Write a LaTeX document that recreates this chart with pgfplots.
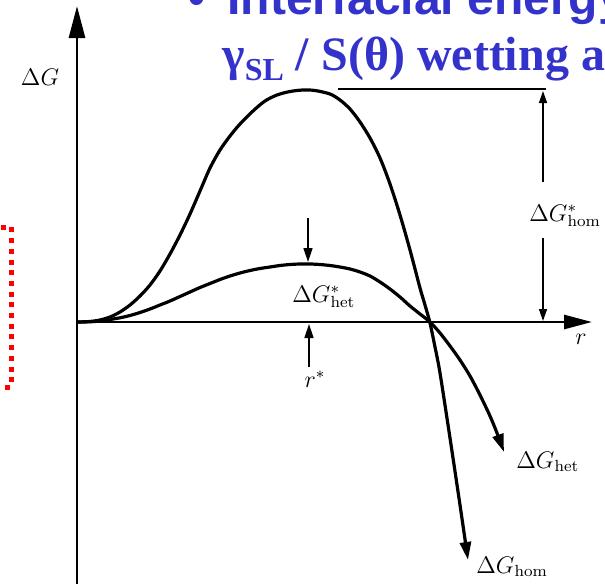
\documentclass[border=0pt]{standalone}
\usepackage{pgfplots}
\pgfplotsset{compat=1.18}
\usepackage{fontspec}
\usetikzlibrary{arrows.meta}
\newfontfamily\slidesans{Liberation Sans}
\newfontfamily\slideserif{Liberation Serif}
\definecolor{slideblue}{RGB}{51,51,204}
\tikzset{lbl/.style={font=\fontsize{11.5}{13}\selectfont}}

% free-energy curves, in picture units (x to the right, y downwards)
\pgfplotstableread{
x   y
77  322
90  321.5
100 320
110 317
120 312
130 305
140 296
150 285
160 271
170 254
180 235
190 214
200 191
210 168
220 150
230 136
240 124
253 111
265 101
277 95
290 91.5
303 90
315 90.5
330 94
340 100
350 109
360 122
370 138
380 158
390 184
400 215
410 250
420 288
425 305
430 323
435 347
440 373
450 438
460 505
468 560
}\homcurve

\pgfplotstableread{
x   y
77  322
90  321.8
100 321
110 319.5
120 317.8
130 315.5
140 312.5
150 309
160 305
170 301
180 296.5
190 292
200 287.5
210 283.5
220 279.5
230 276
240 273
250 270.5
260 268.5
270 267
280 265.5
290 264.5
300 264
310 264
320 264.5
330 265.5
340 267
350 269
360 272
370 276
380 282
390 289
400 297
410 306
420 314
430 322
440 333
450 346
460 360
470 376
480 395
490 416
497 433
504 452
}\hetcurve

\begin{document}
\begin{tikzpicture}
\useasboundingbox (0,0) rectangle (302.5pt,292pt);
\clip (0,0) rectangle (302.5pt,292pt);
\begin{axis}[
  at={(0,0)}, anchor=south west,
  scale only axis, width=302.5pt, height=292pt,
  xmin=0, xmax=605, ymin=0, ymax=584, y dir=reverse,
  hide axis, clip=false,
]
% axes
\draw[line width=1.4pt, -{Triangle[length=16pt,width=8pt]}]
  (axis cs:77,584) -- (axis cs:77,6);
\draw[line width=1.4pt, -{Triangle[length=14pt,width=7pt]}]
  (axis cs:77,322) -- (axis cs:592,322);

% curves
\addplot[line width=1.6pt, smooth, -{Triangle[length=9pt,width=5.5pt]}]
  table[x=x,y=y] {\homcurve};
\addplot[line width=1.6pt, smooth, -{Triangle[length=9pt,width=5.5pt]}]
  table[x=x,y=y] {\hetcurve};

% barrier heights
\draw[line width=0.7pt] (axis cs:338,89) -- (axis cs:546,89);
\draw[line width=0.7pt, -{Triangle[length=6pt,width=4pt]}]
  (axis cs:543,182) -- (axis cs:543,91);
\draw[line width=0.7pt, -{Triangle[length=6pt,width=4pt]}]
  (axis cs:543,238) -- (axis cs:543,321);
\draw[line width=0.8pt, -{Triangle[length=7pt,width=4.5pt]}]
  (axis cs:308,218) -- (axis cs:308,262);
\draw[line width=0.8pt, -{Triangle[length=7pt,width=4.5pt]}]
  (axis cs:309,367) -- (axis cs:309,324);

% labels
\node[lbl] at (axis cs:40,77) {$\Delta G$};
\node[lbl] at (axis cs:581,339) {$r$};
\node[lbl] at (axis cs:315,379) {$r^{*}$};
\node[lbl, anchor=base west, inner sep=0pt] at (axis cs:529,221) {$\Delta G^{*}_{\mathrm{hom}}$};
\node[lbl, anchor=base west, inner sep=0pt] at (axis cs:292,302) {$\Delta G^{*}_{\mathrm{het}}$};
\node[lbl, anchor=base west, inner sep=0pt] at (axis cs:516,468) {$\Delta G_{\mathrm{het}}$};
\node[lbl, anchor=base west, inner sep=0pt] at (axis cs:476,573) {$\Delta G_{\mathrm{hom}}$};

% slide heading
\node[anchor=base west, inner sep=0pt, text=slideblue]
  at (axis cs:188,14) {\slidesans\bfseries\fontsize{24}{28}\selectfont\textbullet};
\node[anchor=base west, inner sep=0pt, text=slideblue]
  at (axis cs:227,14) {\slidesans\bfseries\fontsize{24}{28}\selectfont Interfacial energy};
\node[anchor=base west, inner sep=0pt, text=slideblue]
  at (axis cs:222,70) {\slideserif\bfseries\fontsize{24}{28}\selectfont
    γ\raisebox{-5pt}{\fontsize{16}{18}\selectfont SL} / S(θ) wetting angle};

% dotted frame
\draw[red, line width=2.5pt, dash pattern=on 2.5pt off 2.85pt]
  (axis cs:-10,227) -- (axis cs:11,227) -- (axis cs:11,387) -- (axis cs:-10,387);
\end{axis}
\end{tikzpicture}
\end{document}
